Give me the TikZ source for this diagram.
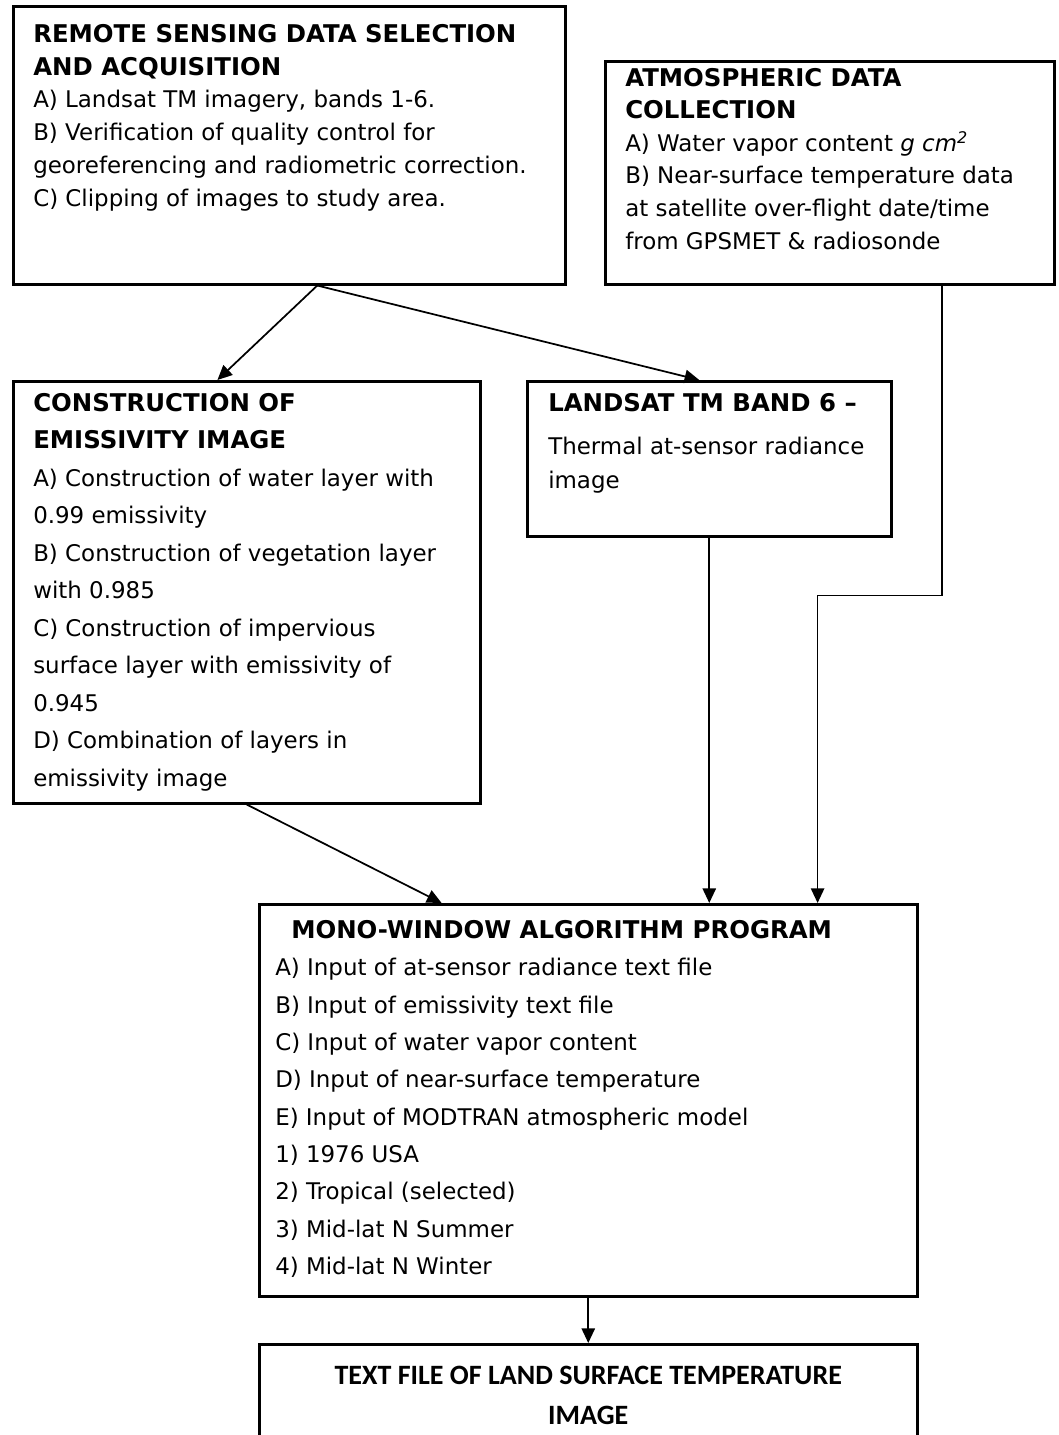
\documentclass[tikz,border=0pt]{standalone}
\usepackage{fontspec}
\setmainfont{DejaVu Sans}
\newfontfamily\calibrifont{Carlito}
\usepackage{tikz}
\usetikzlibrary{arrows.meta,positioning,calc}

\newcommand\ttl[1]{{\fontsize{18.3}{25}\selectfont\bfseries #1}}

\begin{document}
\begin{tikzpicture}[
    x=0.75pt, y=-0.75pt,
    box/.style={draw, line width=1.9pt, anchor=north west, inner sep=0pt},
    txt/.style={anchor=north west, align=left, inner sep=0pt, font=\fontsize{17.2}{#1}\selectfont},
    txt/.default=24.6pt,
    arr/.style={-{Triangle[length=11pt, width=10pt]}, line width=1.3pt},
  ]
  \useasboundingbox (0,0) rectangle (1058,1435);

  % Input boxes
  \node[box, minimum width=414pt, minimum height=208.5pt] (remote) at (12,5) {};
  \node[txt] (remotetxt) at (33,24)
    {\ttl{REMOTE SENSING DATA SELECTION}\\
     \ttl{AND ACQUISITION}\\
     A) Landsat TM imagery, bands 1-6.\\
     B) Verification of quality control for\\
     georeferencing and radiometric correction.\\
     C) Clipping of images to study area.};

  \node[box, minimum width=336.75pt, minimum height=167.25pt] (atmos) at (604,60) {};
  \node[txt=24.4pt] (atmostxt) at (625,68)
    {\ttl{ATMOSPHERIC DATA}\\
     \ttl{COLLECTION}\\
     A) Water vapor content \textit{g cm}\textsuperscript{\textit{2}}\\
     B) Near-surface temperature data\\
     at satellite over-flight date/time\\
     from GPSMET \& radiosonde};

  % Intermediate boxes
  \node[box, minimum width=350.25pt, minimum height=316.5pt] (emis) at (12,380) {};
  \node[txt=28.1pt] (emistxt) at (33,393)
    {\ttl{CONSTRUCTION OF}\\
     \ttl{EMISSIVITY IMAGE}\\
     A) Construction of water layer with\\
     0.99 emissivity\\
     B) Construction of vegetation layer\\
     with 0.985\\
     C) Construction of impervious\\
     surface layer with emissivity of\\
     0.945\\
     D) Combination of layers in\\
     emissivity image};

  \node[box, minimum width=273pt, minimum height=116.25pt] (landsat) at (526,380) {};
  \node[txt=26pt] (landsattxt) at (548,393)
    {\ttl{LANDSAT TM BAND 6 --}\\[6pt]
     Thermal at-sensor radiance\\
     image};

  % Program and output
  \node[box, minimum width=493.5pt, minimum height=294pt] (mono) at (258,903) {};
  \node[txt=28pt] (monotxt) at (275,920)
    {\hspace*{12pt}\ttl{MONO-WINDOW ALGORITHM PROGRAM}\\
     A) Input of at-sensor radiance text file\\
     B) Input of emissivity text file\\
     C) Input of water vapor content\\
     D) Input of near-surface temperature\\
     E) Input of MODTRAN atmospheric model\\
     1) 1976 USA\\
     2) Tropical (selected)\\
     3) Mid-lat N Summer\\
     4) Mid-lat N Winter};

  \node[box, minimum width=493.5pt, minimum height=80pt] (lst) at (258,1343) {};
  \node[anchor=north, align=center, inner sep=0pt,
        font=\calibrifont\bfseries\fontsize{21}{30}\selectfont] (lsttxt)
    at ([yshift=-17pt]lst.north)
    {TEXT FILE OF LAND SURFACE TEMPERATURE\\ IMAGE};

  % Arrows
  \draw[arr] ([xshift=21pt]remote.south) -- ([xshift=-22pt]emis.north);
  \draw[arr] ([xshift=21pt]remote.south) -- ([xshift=-7.5pt]landsat.north);
  \draw[arr] (emis.south) -- ([xshift=-110pt]mono.north);
  \draw[arr] (landsat.south) -- (landsat.south |- mono.north);
  \draw[arr] ([xshift=84pt]atmos.south) -- ++(0,310) -| ([xshift=172pt]mono.north);
  \draw[arr] (mono.south) -- (lst.north);

\end{tikzpicture}
\end{document}
